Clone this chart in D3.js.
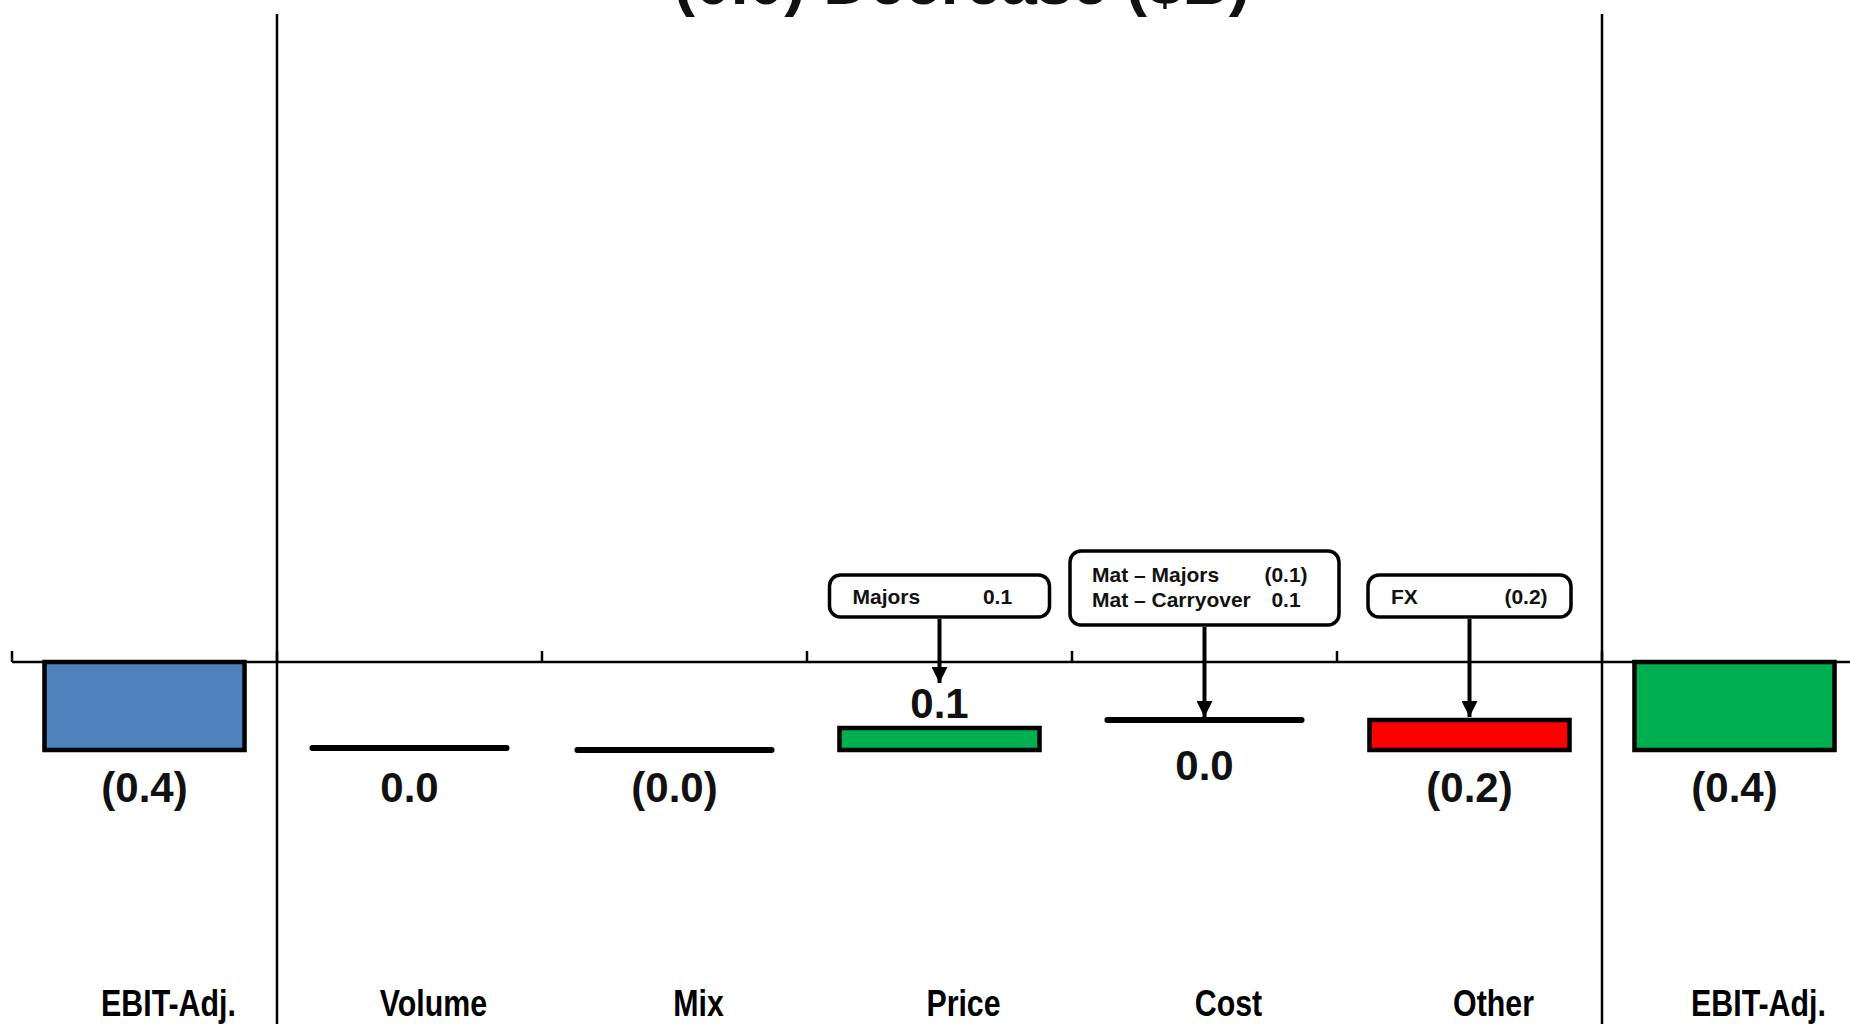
<!DOCTYPE html>
<html>
<head>
<meta charset="utf-8">
<script src="https://cdn.jsdelivr.net/npm/d3@7"></script>
<style>
  html, body { margin: 0; padding: 0; background: #fff; overflow: hidden; }
  svg { display: block; }
</style>
</head>
<body>
<svg id="chart" width="1850" height="1024"></svg>
<script>
// ---- data ($B) ----
const categories = ["EBIT-Adj.", "Volume", "Mix", "Price", "Cost", "Other", "EBIT-Adj."];
const stepKinds  = ["total", "delta", "delta", "delta", "delta", "delta", "total"];
const values     = [-0.44, 0.01, -0.01, 0.11, 0.04, -0.15, -0.44];
const barColors  = ["#4F81BD", null, null, "#00B050", null, "#FF0000", "#00B050"];
const titleText  = "(0.0) Decrease ($B)";

// call-out boxes explaining individual steps
const calloutCategories = ["Price", "Cost", "Other"];
const calloutLabels = [["Majors"], ["Mat \u2013 Majors", "Mat \u2013 Carryover"], ["FX"]];
const calloutValues = [["0.1"], ["(0.1)", "0.1"], ["(0.2)"]];

// ---- layout ----
const W = 1850, H = 1024;
const step = 265, x0 = 12;
const calloutLayout = [
  { width: 220, textLeft: 23, valueCenter: 168 },
  { width: 269, textLeft: 22, valueCenter: 216 },
  { width: 203, textLeft: 23, valueCenter: 158 }
];

const svg = d3.select("#chart");

const x = d3.scaleBand()
  .domain(d3.range(categories.length))
  .range([x0, x0 + step * categories.length])
  .paddingInner(0.245)
  .paddingOuter(0.1225);

const y = d3.scaleLinear().domain([-0.5, 0]).range([762, 662]);

const fmt = v => {
  const s = (Math.round(Math.abs(v) * 10) / 10).toFixed(1);
  return v < 0 ? `(${s})` : s;
};

// check whether a condensed face is available for the narrow captions
function hasNarrow() {
  const t = svg.append("text").attr("font-family", "'Liberation Sans Narrow'")
    .attr("font-weight", "bold").attr("font-size", 40).text("Volume Carryover");
  const a = t.node().getComputedTextLength();
  t.attr("font-family", "'Liberation Sans'");
  const b = t.node().getComputedTextLength();
  t.remove();
  return a < 0.92 * b;
}
const narrowOK = hasNarrow();
const narrowFamily = narrowOK ? "'Liberation Sans Narrow', 'Arial Narrow', sans-serif" : "'Liberation Sans', Arial, sans-serif";
const narrowScale = narrowOK ? 1 : 0.82;

function narrowText(sel, px, py) {
  return sel.attr("transform", `translate(${px},${py}) scale(${narrowScale},1)`)
    .attr("font-family", narrowFamily);
}

// ---- waterfall geometry ----
let level = 0;
const steps = values.map((v, i) => {
  let start, end;
  if (stepKinds[i] === "total") { start = 0; end = v; }
  else { start = level; end = level + v; }
  level = end;
  return { i, v, start, end, kind: stepKinds[i], color: barColors[i],
           flat: stepKinds[i] === "delta" && Math.abs(v) < 0.05 };
});

// ---- title (partly above the page edge) ----
svg.append("text")
  .attr("x", 962).attr("y", 4)
  .attr("text-anchor", "middle")
  .attr("font-family", "'Liberation Sans', Arial, sans-serif")
  .attr("font-weight", "bold").attr("font-size", 64)
  .attr("fill", "#111")
  .text(titleText);

// ---- section dividers ----
[1, categories.length - 1].forEach(k => {
  svg.append("line")
    .attr("x1", x0 + k * step).attr("x2", x0 + k * step)
    .attr("y1", 14).attr("y2", H)
    .attr("stroke", "#000").attr("stroke-width", 2.5);
});

// ---- baseline axis with boundary ticks ----
const axisG = svg.append("g");
axisG.append("line")
  .attr("x1", x0).attr("x2", W + 10)
  .attr("y1", y(0)).attr("y2", y(0))
  .attr("stroke", "#000").attr("stroke-width", 2.5);
axisG.selectAll("line.tick")
  .data(d3.range(categories.length + 1))
  .join("line").attr("class", "tick")
  .attr("x1", k => x0 + k * step).attr("x2", k => x0 + k * step)
  .attr("y1", y(0)).attr("y2", y(0) - 11)
  .attr("stroke", "#000").attr("stroke-width", 2.5);

// ---- bars ----
const bars = steps.filter(d => !d.flat);
svg.selectAll("rect.bar")
  .data(bars)
  .join("rect").attr("class", "bar")
  .attr("x", d => x(d.i))
  .attr("width", x.bandwidth())
  .attr("y", d => y(Math.max(d.start, d.end)))
  .attr("height", d => Math.abs(y(d.start) - y(d.end)))
  .attr("fill", d => d.color)
  .attr("stroke", "#000")
  .attr("stroke-width", 4.5);

// near-zero steps drawn as a heavy rule at the running level
svg.selectAll("line.flat")
  .data(steps.filter(d => d.flat))
  .join("line").attr("class", "flat")
  .attr("x1", d => x(d.i) + 3).attr("x2", d => x(d.i) + x.bandwidth() - 3)
  .attr("y1", d => y(d.end)).attr("y2", d => y(d.end))
  .attr("stroke", "#000").attr("stroke-width", 6)
  .attr("stroke-linecap", "round");

// ---- value labels ----
svg.selectAll("text.value")
  .data(steps)
  .join("text").attr("class", "value")
  .attr("x", d => x(d.i) + x.bandwidth() / 2)
  .attr("y", d => {
    const above = d.kind === "delta" && !d.flat && d.v > 0;
    return above ? y(Math.max(d.start, d.end)) - 10 : y(Math.min(d.start, d.end)) + 52;
  })
  .attr("text-anchor", "middle")
  .attr("font-family", "'Liberation Sans', Arial, sans-serif")
  .attr("font-weight", "bold").attr("font-size", 42)
  .attr("fill", "#111")
  .text(d => fmt(d.v));

// ---- category labels ----
svg.selectAll("text.cat")
  .data(steps)
  .join("text").attr("class", "cat")
  .each(function (d) {
    narrowText(d3.select(this), x(d.i) + x.bandwidth() / 2 + 24, 1016);
  })
  .attr("text-anchor", "middle")
  .attr("font-weight", "bold").attr("font-size", 37)
  .attr("fill", "#000")
  .text(d => categories[d.i]);

// ---- call-outs with arrows ----
const defs = svg.append("defs");
defs.append("marker")
  .attr("id", "arrowHead")
  .attr("viewBox", "0 0 10 10")
  .attr("refX", 10).attr("refY", 5)
  .attr("markerWidth", 4.4).attr("markerHeight", 4)
  .attr("markerUnits", "strokeWidth")
  .attr("orient", "auto")
  .append("path").attr("d", "M0,0 L10,5 L0,10 Z").attr("fill", "#000");

calloutCategories.forEach((cat, j) => {
  const i = categories.indexOf(cat);
  const d = steps[i];
  const lay = calloutLayout[j];
  const cx = x(i) + x.bandwidth() / 2;
  const nLines = calloutLabels[j].length;
  const boxH = nLines === 1 ? 42 : 74;
  const boxBottom = nLines === 1 ? 617 : 625;
  const boxTop = boxBottom - boxH;
  const left = cx - lay.width / 2;

  const g = svg.append("g").attr("class", "callout");
  g.append("rect")
    .attr("x", left).attr("y", boxTop)
    .attr("width", lay.width).attr("height", boxH)
    .attr("rx", 11).attr("ry", 11)
    .attr("fill", "#fff").attr("stroke", "#000").attr("stroke-width", 3.5);

  const firstBase = nLines === 1 ? boxTop + 29 : boxTop + 31;
  calloutLabels[j].forEach((lab, r) => {
    const by = firstBase + r * 25;
    g.append("text")
      .attr("x", left + lay.textLeft).attr("y", by)
      .attr("font-family", "'Liberation Sans', Arial, sans-serif")
      .attr("font-weight", "bold")
      .attr("font-size", 21).attr("fill", "#111").text(lab);
    g.append("text")
      .attr("x", left + lay.valueCenter).attr("y", by)
      .attr("text-anchor", "middle")
      .attr("font-family", "'Liberation Sans', Arial, sans-serif")
      .attr("font-weight", "bold")
      .attr("font-size", 21).attr("fill", "#111").text(calloutValues[j][r]);
  });

  // arrow to the step (above its label for raised bars)
  const top = y(Math.max(d.start, d.end));
  const labelAbove = !d.flat && d.v > 0;
  const tip = labelAbove ? top - 45 : top - 3;
  g.append("line")
    .attr("x1", cx).attr("x2", cx)
    .attr("y1", boxBottom + 2).attr("y2", tip)
    .attr("stroke", "#000").attr("stroke-width", 4)
    .attr("marker-end", "url(#arrowHead)");
});
</script>
</body>
</html>
